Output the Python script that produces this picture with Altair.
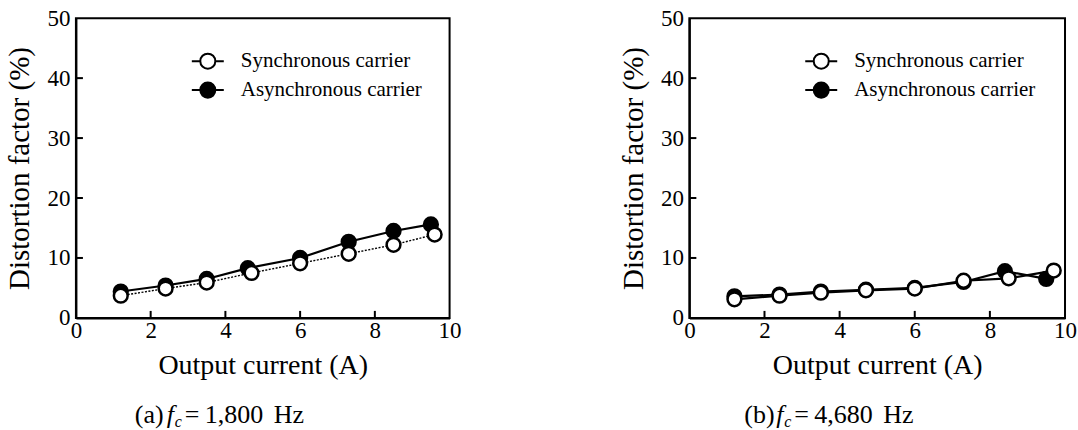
import altair as alt
import pandas as pd

SERIES = ["Synchronous carrier", "Asynchronous carrier"]

# (a) fc = 1,800 Hz
a_sync_x = [1.2, 2.4, 3.5, 4.7, 6.0, 7.3, 8.5, 9.6]
a_sync_y = [3.7, 4.9, 5.9, 7.5, 9.1, 10.7, 12.2, 13.9]
a_async_x = [1.2, 2.4, 3.5, 4.6, 6.0, 7.3, 8.5, 9.5]
a_async_y = [4.4, 5.4, 6.5, 8.3, 10.0, 12.7, 14.5, 15.6]

# (b) fc = 4,680 Hz
b_sync_x = [1.2, 2.4, 3.5, 4.7, 6.0, 7.3, 8.5, 9.7]
b_sync_y = [3.1, 3.7, 4.2, 4.6, 4.9, 6.2, 6.6, 7.9]
b_async_x = [1.2, 2.4, 3.5, 4.7, 6.0, 7.3, 8.4, 9.5]
b_async_y = [3.6, 3.9, 4.4, 4.7, 5.0, 6.0, 7.8, 6.5]

X_TICKS = [0, 2, 4, 6, 8, 10]
Y_TICKS = [0, 10, 20, 30, 40, 50]
X_INNER = [2, 4, 6, 8]
Y_INNER = [10, 20, 30, 40]

SERIF = "Liberation Serif"
LEG_PATH = ("M-1,0L-0.47,0M0.47,0L1,0M0.47,0"
            "A0.47,0.47,0,1,1,-0.47,0A0.47,0.47,0,1,1,0.47,0Z")

W_A, W_B, H = 374, 376, 300

AX_STYLE = dict(domainColor="black", domainWidth=2, ticks=False, tickSize=0, grid=False,
                labelFont=SERIF, labelFontSize=23, labelColor="black",
                titleFont=SERIF, titleFontWeight="normal",
                titleColor="black", labelOverlap=False)


def txt(s, xpos, ypos, size=26, style="normal"):
    return alt.Chart(pd.DataFrame({"s": [s]})).mark_text(
        font=SERIF, fontSize=size, fontStyle=style, align="left",
        baseline="alphabetic", color="black"
    ).encode(text="s:N", x=alt.value(xpos), y=alt.value(ypos))


def panel(sx, sy, ax, ay, width, tag, freq, sync_line, cap_x):
    df = pd.DataFrame({
        "current": ax + sx,
        "distortion": ay + sy,
        "series": [SERIES[1]] * len(ax) + [SERIES[0]] * len(sx),
    })
    xs = alt.Scale(domain=[0, 10], nice=False, zero=False)
    ys = alt.Scale(domain=[0, 50], nice=False)
    x_axis = alt.Axis(values=X_TICKS, title="Output current (A)", labelPadding=2,
                      titlePadding=9, titleFontSize=28, labelFlush=False, **AX_STYLE)
    y_axis = alt.Axis(values=Y_TICKS, title="Distortion factor (%)", labelPadding=6,
                      titlePadding=12, titleFontSize=29, **AX_STYLE)
    x = alt.X("current:Q", scale=xs, axis=x_axis)
    y = alt.Y("distortion:Q", scale=ys, axis=y_axis)
    base = alt.Chart(df)
    line_async = base.transform_filter(alt.datum.series == SERIES[1]).mark_line(
        color="black", strokeWidth=2.2).encode(x=x, y=y)
    line_sync = base.transform_filter(alt.datum.series == SERIES[0]).mark_line(
        color="black", **sync_line).encode(x=x, y=y)
    points = base.mark_point(shape="circle", size=190, stroke="black", strokeWidth=2.5,
                             opacity=1, filled=True).encode(
        x=x, y=y,
        fill=alt.Fill("series:N", scale=alt.Scale(domain=SERIES, range=["white", "black"]),
                      legend=alt.Legend(title=None, orient="none", legendX=115, legendY=26,
                                        symbolType=LEG_PATH, symbolSize=1024,
                                        symbolStrokeColor="black", symbolStrokeWidth=2,
                                        symbolOpacity=1, labelLimit=400,
                                        labelFont=SERIF, labelFontSize=21, labelColor="black",
                                        labelOffset=16, rowPadding=0, padding=0)),
    )
    xt = alt.Chart(pd.DataFrame({"current": X_INNER})).mark_rule(color="black", strokeWidth=2).encode(
        x=alt.X("current:Q", scale=xs, axis=x_axis), y=alt.value(H), y2=alt.value(H - 7))
    yt = alt.Chart(pd.DataFrame({"distortion": Y_INNER})).mark_rule(color="black", strokeWidth=2).encode(
        y=alt.Y("distortion:Q", scale=ys, axis=y_axis), x=alt.value(0), x2=alt.value(7))
    cap = [
        txt(tag, cap_x[0], 405),
        txt("f", cap_x[1], 405, style="italic"),
        txt("c", cap_x[2], 409, size=16, style="italic"),
        txt("=", cap_x[3], 405),
        txt(freq, cap_x[4], 405),
        txt("Hz", cap_x[5], 405),
    ]
    return alt.layer(line_async, line_sync, points, xt, yt, *cap).properties(width=width, height=H)


pa = panel(a_sync_x, a_sync_y, a_async_x, a_async_y, W_A, "(a)", "1,800",
           dict(strokeWidth=1.4, strokeDash=[2, 1.5]), [59, 91, 99, 109, 129, 198])
pb = panel(b_sync_x, b_sync_y, b_async_x, b_async_y, W_B, "(b)", "4,680",
           dict(strokeWidth=2.2), [55, 87, 95, 105, 125, 194])

chart = (
    alt.hconcat(pa, pb, spacing=240, bounds="flush")
    .resolve_scale(fill="independent")
    .resolve_legend(fill="independent")
    .properties(padding={"left": 4, "top": 6, "right": 0, "bottom": 0}, background="white")
    .configure(font=SERIF)
    .configure_legend(labelFont=SERIF)
    .configure_view(stroke="black", strokeWidth=2)
)

chart.save("out.html", embed_options={"renderer": "svg", "actions": False})
